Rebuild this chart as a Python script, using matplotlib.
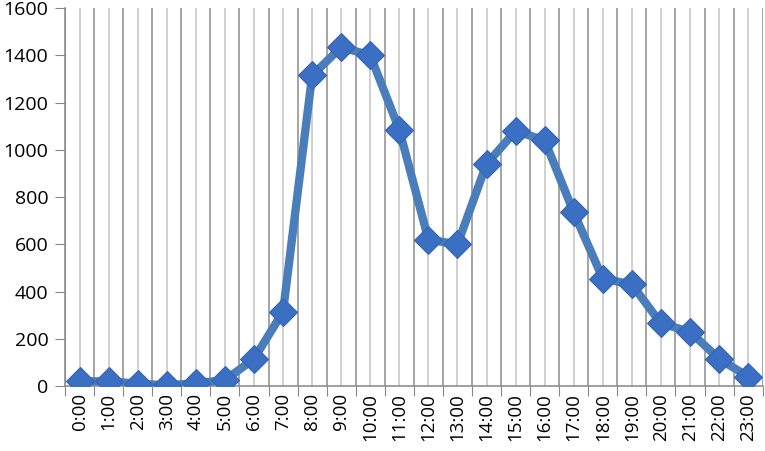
import numpy as np
import matplotlib.pyplot as plt

hours = [f"{h}:00" for h in range(24)]
counts = [20, 20, 10, 3, 12, 25, 115, 315, 1315, 1435, 1400, 1085,
          620, 600, 940, 1080, 1040, 735, 455, 430, 265, 230, 115, 40]

plt.rcParams['font.family'] = ['Open Sans', 'DejaVu Sans']

fig = plt.figure(figsize=(7.65, 4.51), dpi=100)
ax = fig.add_axes([0.085, 0.144, 0.912, 0.838])

x = np.arange(len(hours))
ax.plot(x, counts, '-', color='#4a7ebb', lw=6, solid_joinstyle='round', zorder=3)
ax.plot(x, counts, 'D', color='#3b6fc4', markersize=14, markeredgecolor='#3565b0',
        markeredgewidth=0.8, zorder=4)

ax.set_xlim(-0.5, len(hours) - 0.5)
ax.set_ylim(0, 1600)
ax.set_yticks(range(0, 1601, 200))

# major ticks at category boundaries, minor grid at category centres
ax.set_xticks(np.arange(-0.5, len(hours), 1.0))
ax.set_xticklabels([])
ax.set_xticks(x, minor=True)
ax.set_xticklabels(hours, minor=True, rotation=90, fontsize=13.5)
ax.tick_params(axis='x', which='minor', length=0, pad=5)
ax.tick_params(axis='x', which='major', length=7, color='#868686')
ax.tick_params(axis='y', length=7, color='#868686', labelsize=14, pad=5)

ax.grid(axis='x', which='major', color='#8c8c8c', lw=1.1)
ax.grid(axis='x', which='minor', color='#c4c4c4', lw=1.1)
ax.set_axisbelow(True)

for s in ['top', 'right']:
    ax.spines[s].set_visible(False)
for s in ['left', 'bottom']:
    ax.spines[s].set_color('#868686')
    ax.spines[s].set_linewidth(1.1)

fig.savefig('out.png', dpi=100)
